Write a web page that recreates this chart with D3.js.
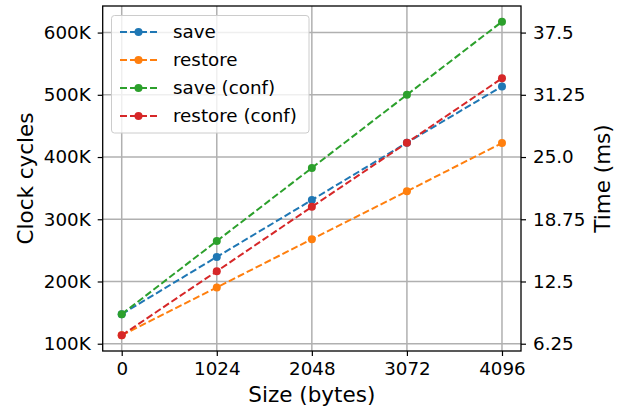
<!DOCTYPE html>
<html>
<head>
<meta charset="utf-8">
<script src="https://cdn.jsdelivr.net/npm/d3@7"></script>
<style>
  html, body { margin: 0; padding: 0; background: #fff; }
  svg { display: block; font-family: "DejaVu Sans", sans-serif; }
</style>
</head>
<body>
<svg id="chart" width="624" height="410"></svg>
<script>
const sizes = [0, 1024, 2048, 3072, 4096];
const seriesNames = ["save", "restore", "save (conf)", "restore (conf)"];
const seriesColors = ["#1f77b4", "#ff7f0e", "#2ca02c", "#d62728"];
const saveVals = [147500, 239500, 331000, 423000, 513500];
const restoreVals = [113500, 190500, 268000, 345000, 422500];
const saveConfVals = [147500, 265000, 382500, 500000, 617500];
const restoreConfVals = [113500, 216500, 320000, 423000, 526500];
const yTickVals = [100000, 200000, 300000, 400000, 500000, 600000];
const yTickLabels = ["100K", "200K", "300K", "400K", "500K", "600K"];
const rightTickLabels = ["6.25", "12.5", "18.75", "25.0", "31.25", "37.5"];
const cyclesPerMs = 16000;

const allSeries = [saveVals, restoreVals, saveConfVals, restoreConfVals];

const svg = d3.select("#chart");
const L = 102.7, R = 521, T = 6, B = 351;

// matplotlib-like 5% margins
const xMin = d3.min(sizes), xMax = d3.max(sizes);
const xPad = (xMax - xMin) * 0.05;
const x = d3.scaleLinear().domain([xMin - xPad, xMax + xPad]).range([L, R]);
const allVals = allSeries.flat();
const yMin = d3.min(allVals), yMax = d3.max(allVals);
const yPad = (yMax - yMin) * 0.05;
const y = d3.scaleLinear().domain([yMin - yPad, yMax + yPad]).range([B, T]);
const y2 = d3.scaleLinear().domain(y.domain().map(v => v / cyclesPerMs)).range([B, T]);

// grid
const grid = svg.append("g");
grid.selectAll("line.gx").data(sizes).enter().append("line")
  .attr("x1", d => x(d)).attr("x2", d => x(d)).attr("y1", T).attr("y2", B)
  .attr("stroke", "#b0b0b0").attr("stroke-width", 1.5);
grid.selectAll("line.gy").data(yTickVals).enter().append("line")
  .attr("x1", L).attr("x2", R).attr("y1", d => y(d)).attr("y2", d => y(d))
  .attr("stroke", "#b0b0b0").attr("stroke-width", 1.5);

// lines
const line = d3.line().x((d, i) => x(sizes[i])).y(d => y(d));
allSeries.forEach((vals, k) => {
  const g = svg.append("g");
  g.append("path").datum(vals).attr("d", line)
    .attr("fill", "none").attr("stroke", seriesColors[k])
    .attr("stroke-width", 2).attr("stroke-dasharray", "7,3");
  g.selectAll("circle").data(vals).enter().append("circle")
    .attr("cx", (d, i) => x(sizes[i])).attr("cy", d => y(d)).attr("r", 4)
    .attr("fill", seriesColors[k]);
});

// axes
const fs = 18.3;
const xAxis = d3.axisBottom(x).tickValues(sizes).tickSize(5).tickPadding(6)
  .tickFormat(d3.format("d"));
const gx = svg.append("g").attr("transform", `translate(0,${B})`).call(xAxis);
const yAxis = d3.axisLeft(y).tickValues(yTickVals).tickSize(5).tickPadding(7)
  .tickFormat((d, i) => yTickLabels[i]);
const gy = svg.append("g").attr("transform", `translate(${L},0)`).call(yAxis);
const y2Axis = d3.axisRight(y2).tickValues(yTickVals.map(v => v / cyclesPerMs)).tickSize(5).tickPadding(7)
  .tickFormat((d, i) => rightTickLabels[i]);
const gy2 = svg.append("g").attr("transform", `translate(${R},0)`).call(y2Axis);
[gx, gy, gy2].forEach(g => {
  g.select(".domain").remove();
  g.selectAll(".tick line").attr("stroke", "#000").attr("stroke-width", 1.2);
  g.selectAll(".tick text").attr("fill", "#000").style("font-size", fs + "px")
    .style("font-family", "DejaVu Sans");
});

// frame
svg.append("rect").attr("x", L).attr("y", T).attr("width", R - L).attr("height", B - T)
  .attr("fill", "none").attr("stroke", "#000").attr("stroke-width", 1.3);

// axis labels
const lfs = 21.5;
svg.append("text").attr("x", (L + R) / 2).attr("y", 402).attr("text-anchor", "middle")
  .style("font-size", lfs + "px").text("Size (bytes)");
svg.append("text").attr("transform", `translate(33,${(T + B) / 2}) rotate(-90)`)
  .attr("text-anchor", "middle").style("font-size", lfs + "px").text("Clock cycles");
svg.append("text").attr("transform", `translate(610,${(T + B) / 2}) rotate(-90)`)
  .attr("text-anchor", "middle").style("font-size", lfs + "px").text("Time (ms)");

// legend
const lg = svg.append("g");
lg.append("rect").attr("x", 111.5).attr("y", 15.5).attr("width", 197.5).attr("height", 117.5)
  .attr("rx", 3).attr("fill", "#fff").attr("fill-opacity", 0.8)
  .attr("stroke", "#cccccc").attr("stroke-width", 1);
seriesNames.forEach((name, k) => {
  const cy = 32 + k * 28;
  lg.append("line").attr("x1", 120).attr("x2", 157).attr("y1", cy).attr("y2", cy)
    .attr("stroke", seriesColors[k]).attr("stroke-width", 2).attr("stroke-dasharray", "7,3");
  lg.append("circle").attr("cx", 138.5).attr("cy", cy).attr("r", 4).attr("fill", seriesColors[k]);
  lg.append("text").attr("x", 173).attr("y", cy).attr("dy", "0.35em")
    .style("font-size", fs + "px").text(name);
});
</script>
</body>
</html>
